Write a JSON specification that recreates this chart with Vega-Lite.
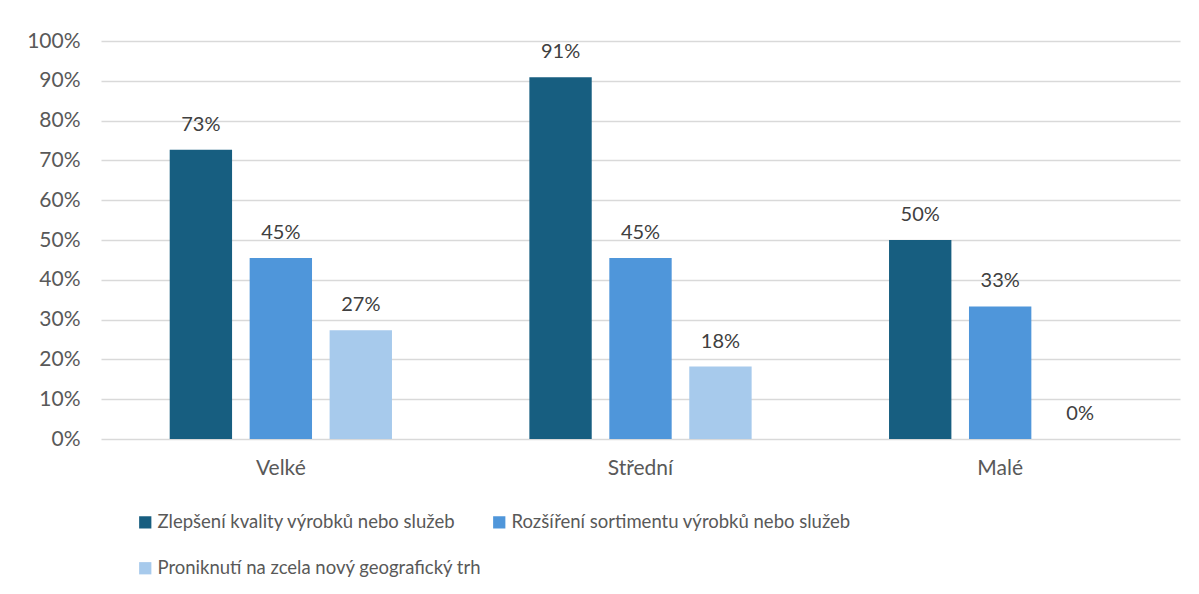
{
  "$schema": "https://vega.github.io/schema/vega-lite/v6.json",
  "width": 1079,
  "height": 398,
  "autosize": "none",
  "padding": {"left": 101, "top": 41, "right": 19, "bottom": 155},
  "background": "white",
  "config": {
    "font": "Lato",
    "view": {"stroke": null},
    "axis": {"labelFont": "Lato", "labelFontSize": 21, "labelColor": "#595959"}
  },
  "data": {
    "values": [
      {"group": "Velké", "series": "Zlepšení kvality výrobků nebo služeb", "value": 0.727},
      {"group": "Velké", "series": "Rozšíření sortimentu výrobků nebo služeb", "value": 0.4545},
      {"group": "Velké", "series": "Proniknutí na zcela nový geografický trh", "value": 0.273},
      {"group": "Střední", "series": "Zlepšení kvality výrobků nebo služeb", "value": 0.909},
      {"group": "Střední", "series": "Rozšíření sortimentu výrobků nebo služeb", "value": 0.4545},
      {"group": "Střední", "series": "Proniknutí na zcela nový geografický trh", "value": 0.182},
      {"group": "Malé", "series": "Zlepšení kvality výrobků nebo služeb", "value": 0.5},
      {"group": "Malé", "series": "Rozšíření sortimentu výrobků nebo služeb", "value": 0.333},
      {"group": "Malé", "series": "Proniknutí na zcela nový geografický trh", "value": 0}
    ]
  },
  "encoding": {
    "x": {
      "field": "group", "type": "nominal", "sort": ["Velké", "Střední", "Malé"],
      "scale": {"paddingInner": 0.382, "paddingOuter": 0.191},
      "axis": {"title": null, "labelAngle": 0, "domain": false, "ticks": false, "labelPadding": 18}
    },
    "xOffset": {
      "field": "series", "type": "nominal",
      "sort": ["Zlepšení kvality výrobků nebo služeb", "Rozšíření sortimentu výrobků nebo služeb", "Proniknutí na zcela nový geografický trh"],
      "scale": {"paddingInner": 0.22, "paddingOuter": 0}
    },
    "y": {
      "field": "value", "type": "quantitative",
      "scale": {"domain": [0, 1], "nice": false},
      "axis": {"title": null, "format": ".0%", "values": [0,0.1,0.2,0.3,0.4,0.5,0.6,0.7,0.8,0.9,1], "labelOverlap": false, "domain": false, "ticks": false, "labelPadding": 21, "gridColor": "#D9D9D9", "gridWidth": 1.3}
    }
  },
  "layer": [
    {
      "mark": {"type": "bar"},
      "encoding": {
        "color": {
          "field": "series", "type": "nominal",
          "sort": ["Zlepšení kvality výrobků nebo služeb", "Rozšíření sortimentu výrobků nebo služeb", "Proniknutí na zcela nový geografický trh"],
          "scale": {"range": ["#175E80", "#4F96DA", "#A7CAEC"]},
          "legend": {
            "title": null, "orient": "none", "legendX": 35, "legendY": 472,
            "direction": "horizontal", "columns": 2, "symbolType": "square", "symbolSize": 150,
            "labelFontSize": 18.5, "labelColor": "#595959", "labelFont": "Lato", "labelLimit": 500,
            "columnPadding": 8, "rowPadding": 27, "symbolStrokeWidth": 0, "labelOffset": 3
          }
        }
      }
    },
    {
      "mark": {"type": "text", "baseline": "middle", "dy": -25, "fontSize": 20, "color": "#404040", "font": "Lato"},
      "encoding": {
        "text": {"field": "value", "type": "quantitative", "format": ".0%"}
      }
    }
  ]
}
